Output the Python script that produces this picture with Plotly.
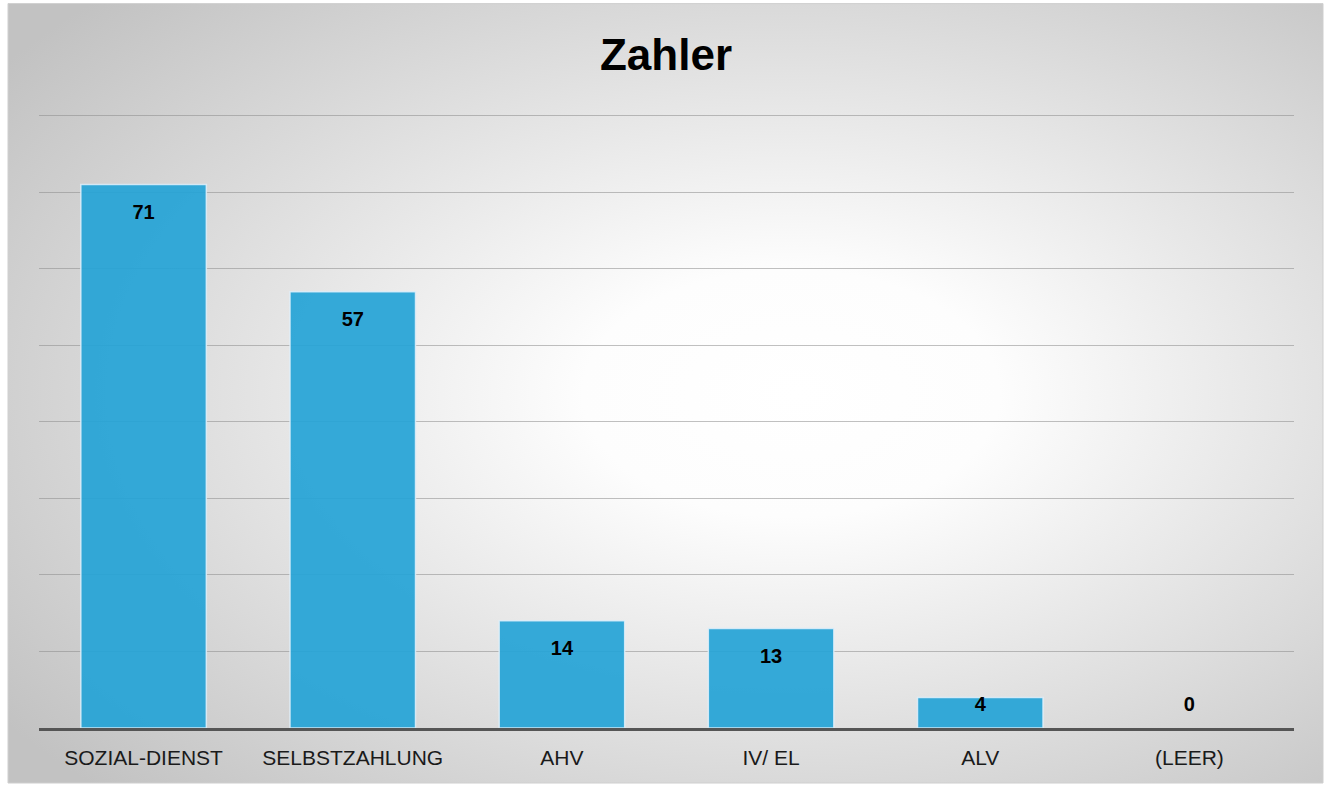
import base64
import plotly.graph_objects as go

categories = ["SOZIAL-DIENST", "SELBSTZAHLUNG", "AHV", "IV/ EL", "ALV", "(LEER)"]
values = [71, 57, 14, 13, 4, 0]
title_text = "Zahler"

W, H = 1332, 785
YMAX = 81
L, R, B = 39, 1294, 728  # plot area in pixels
T = B - (B - 116) * YMAX / 80
FX0, FX1, FY0, FY1 = 8, 1323, 4, 783  # chart frame in pixels

def px2paper_x(px):
    return (px - L) / (R - L)

def px2paper_y(py):
    return (B - py) / (B - T)

svg = f"""<svg xmlns='http://www.w3.org/2000/svg' width='{FX1-FX0}' height='{FY1-FY0}' preserveAspectRatio='none'>
<defs><radialGradient id='g' cx='0.58' cy='0.5' r='0.72' fx='0.6' fy='0.5'>
<stop offset='0' stop-color='#ffffff'/>
<stop offset='0.22' stop-color='#fdfdfd'/>
<stop offset='1' stop-color='#c2c2c2'/>
</radialGradient></defs>
<rect width='100%' height='100%' fill='url(#g)'/>
</svg>"""
src = "data:image/svg+xml;base64," + base64.b64encode(svg.encode()).decode()

# label positions: near top inside bar, clamped for small bars
label_y = [max(v - 3.8, 2.9) for v in values]

FONT = "Liberation Sans, Arial, sans-serif"

fig = go.Figure()
fig.add_trace(go.Bar(
    x=categories, y=values,
    marker=dict(color="rgba(38,164,214,0.93)",
                line=dict(color="rgba(225,240,250,0.85)", width=[1.5 if v > 0 else 0 for v in values])),
    hoverinfo="x+y",
))
fig.add_trace(go.Scatter(
    x=categories, y=label_y, mode="text",
    text=[str(v) for v in values],
    textfont=dict(family=FONT, size=20, color="#000000", weight="bold"),
    hoverinfo="skip",
))

fig.update_layout(
    width=W, height=H,
    margin=dict(l=L, r=W - R, t=T, b=H - B, pad=0),
    paper_bgcolor="#ffffff",
    plot_bgcolor="rgba(0,0,0,0)",
    showlegend=False,
    bargap=0.4,
    title=dict(
        text="<b>" + title_text + "</b>", x=0.5, xanchor="center", y=1 - 55 / H, yanchor="middle",
        font=dict(family=FONT, size=44, color="#000000"),
    ),
    xaxis=dict(
        showline=True, linecolor="#555555", linewidth=3,
        showgrid=False, ticks="", ticklabelstandoff=9,
        tickfont=dict(family=FONT, size=21, color="#1a1a1a"),
        fixedrange=True,
    ),
    yaxis=dict(
        range=[0, YMAX], tick0=0, dtick=10, showticklabels=False, ticks="",
        showgrid=True, gridcolor="rgba(140,140,140,0.55)", gridwidth=1,
        zeroline=False, showline=False, fixedrange=True,
    ),
    images=[dict(
        source=src, xref="paper", yref="paper",
        x=px2paper_x(FX0), y=px2paper_y(FY0),
        sizex=px2paper_x(FX1) - px2paper_x(FX0), sizey=px2paper_y(FY0) - px2paper_y(FY1),
        xanchor="left", yanchor="top", sizing="stretch", layer="below",
    )],
    shapes=[dict(
        type="rect", xref="paper", yref="paper",
        x0=px2paper_x(FX0), x1=px2paper_x(FX1), y0=px2paper_y(FY1), y1=px2paper_y(FY0),
        line=dict(color="#cfcfcf", width=1), fillcolor="rgba(0,0,0,0)", layer="below",
    )],
)

fig.write_html("out.html", config={"displayModeBar": False},
               post_script="document.body.style.margin='0';document.body.style.overflow='hidden';")
